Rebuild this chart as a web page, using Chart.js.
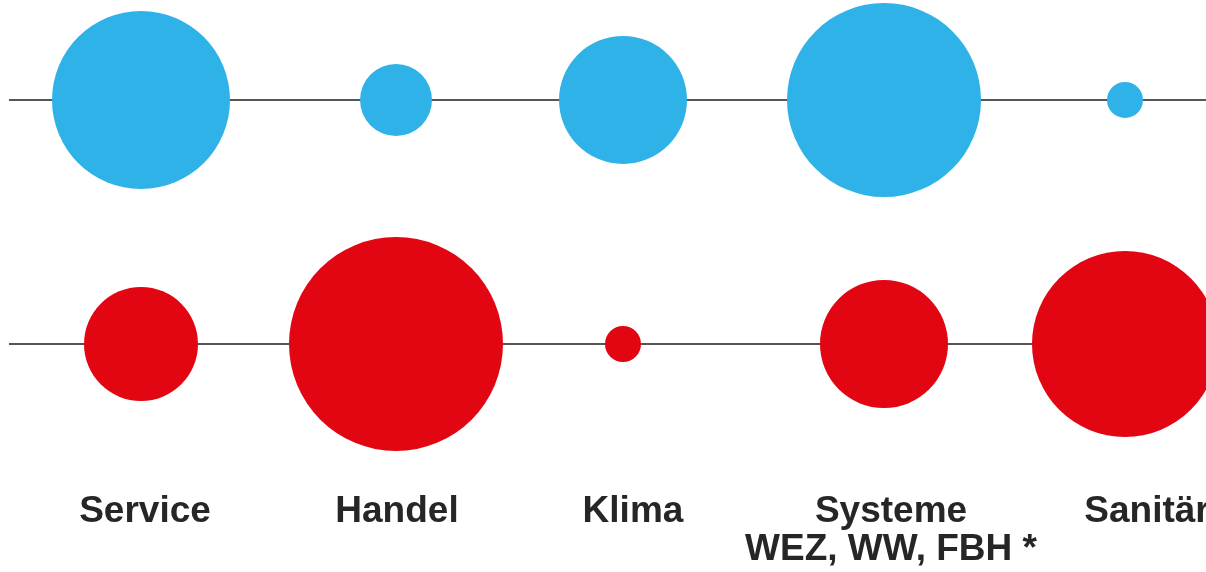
<!DOCTYPE html>
<html>
<head>
<meta charset="utf-8">
<script src="https://cdn.jsdelivr.net/npm/chart.js@4.4.1/dist/chart.umd.min.js"></script>
<style>
  html, body { margin: 0; padding: 0; background: #ffffff; }
  #wrap { width: 1206px; height: 572px; position: relative; }
</style>
</head>
<body>
<div id="wrap"><canvas id="c"></canvas></div>
<script>
// Categories and their horizontal positions
const categories = ["Service", "Handel", "Klima", ["Systeme", "WEZ, WW, FBH *"], "Sanitär"];
const categoryX = [141, 396, 623, 884, 1125];
const labelX = [145, 397, 633, 891, 1147];

// Bubble sizes (radius, px) per row
const blueRadius = [89, 36, 64, 97, 18];
const redRadius  = [57, 107, 18, 64, 93];

// Row positions on the value axis
const blueRowY = 2;
const redRowY = 1;
const labelRowY = 0.27;
const lineStartX = 9;
const lineEndX = 1206;

const blueColor = "#2EB2E8";
const redColor = "#E20613";
const lineColor = "#555555";
const textColor = "#262626";

const blueData = categoryX.map((x, i) => ({ x: x, y: blueRowY, r: blueRadius[i] }));
const redData = categoryX.map((x, i) => ({ x: x, y: redRowY, r: redRadius[i] }));

const labelPlugin = {
  id: "catLabels",
  afterDatasetsDraw(chart) {
    const ctx = chart.ctx;
    const xs = chart.scales.x, ys = chart.scales.y;
    const baseY = ys.getPixelForValue(labelRowY);
    ctx.save();
    ctx.fillStyle = textColor;
    ctx.font = "bold 37px 'Liberation Sans', Arial, sans-serif";
    ctx.textAlign = "center";
    ctx.textBaseline = "alphabetic";
    categories.forEach((lab, i) => {
      const lines = Array.isArray(lab) ? lab : [lab];
      const px = xs.getPixelForValue(labelX[i]);
      lines.forEach((ln, j) => ctx.fillText(ln, px, baseY + j * 38));
    });
    ctx.restore();
  }
};

new Chart(document.getElementById("c"), {
  type: "bubble",
  data: {
    datasets: [
      { label: "blue", data: blueData, backgroundColor: blueColor, borderWidth: 0, hoverBorderWidth: 0, order: 0, clip: false },
      { label: "red", data: redData, backgroundColor: redColor, borderWidth: 0, hoverBorderWidth: 0, order: 0, clip: false },
      { type: "line", label: "lineBlue", data: [{x: lineStartX, y: blueRowY}, {x: lineEndX, y: blueRowY}], borderColor: lineColor, borderWidth: 2, pointRadius: 0, order: 5, clip: false },
      { type: "line", label: "lineRed", data: [{x: lineStartX, y: redRowY}, {x: lineEndX, y: redRowY}], borderColor: lineColor, borderWidth: 2, pointRadius: 0, order: 5, clip: false }
    ]
  },
  options: {
    responsive: true,
    maintainAspectRatio: false,
    animation: false,
    events: [],
    layout: { padding: 0, autoPadding: false },
    plugins: { legend: { display: false }, tooltip: { enabled: false } },
    scales: {
      x: { type: "linear", min: 0, max: 1206, display: false },
      y: { type: "linear", min: 0.0656, max: 2.4098, display: false }
    }
  },
  plugins: [labelPlugin]
});
</script>
</body>
</html>
